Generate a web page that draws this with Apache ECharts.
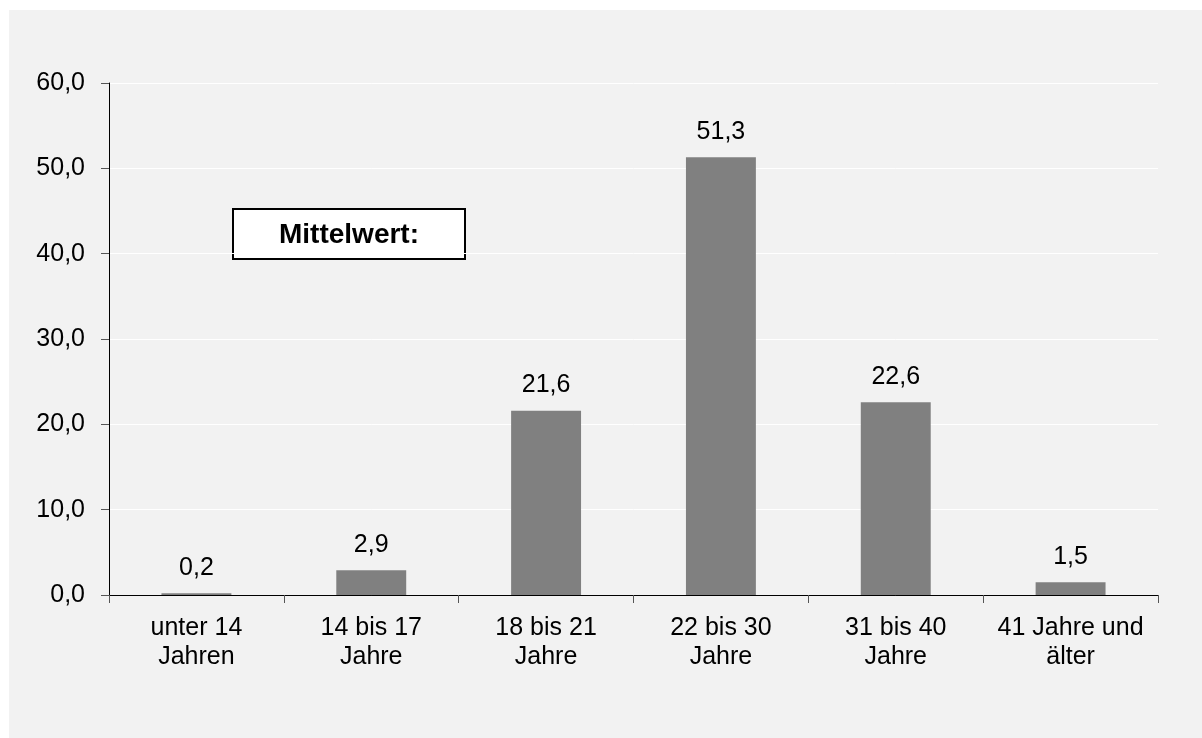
<!DOCTYPE html>
<html><head><meta charset="utf-8">
<script src="https://cdn.jsdelivr.net/npm/echarts@6/dist/echarts.min.js"></script>
<style>html,body{margin:0;padding:0;background:#fff}#c{width:1202px;height:738px}</style>
</head><body><div id="c"></div>
<script>
const categories = ["unter 14\nJahren", "14 bis 17\nJahre", "18 bis 21\nJahre", "22 bis 30\nJahre", "31 bis 40\nJahre", "41 Jahre und\nälter"];
const values = [0.2, 2.9, 21.6, 51.3, 22.6, 1.5];
const boxText = "Mittelwert:";
const FONT = "Liberation Sans";
const fmt = v => v.toFixed(1).replace('.', ',');
const chart = echarts.init(document.getElementById('c'), null, {renderer: 'canvas'});
chart.setOption({
  animation: false,
  backgroundColor: '#ffffff',
  graphic: [
    {type: 'rect', z: -10, shape: {x: 9, y: 10, width: 1193, height: 728}, style: {fill: '#f2f2f2'}},
    {type: 'group', z: 100, left: 232, top: 208, children: [
      {type: 'rect', shape: {x: 1, y: 1, width: 232, height: 50}, style: {fill: '#ffffff', stroke: '#000', lineWidth: 2}},
      {type: 'text', x: 117, y: 27, style: {text: boxText, font: 'bold 28px ' + FONT, fill: '#000', align: 'center', verticalAlign: 'middle'}}
    ]}
  ],
  grid: {left: 109, right: 44, top: 83, bottom: 143, containLabel: false},
  xAxis: {
    type: 'category', data: categories,
    axisLine: {lineStyle: {color: '#000', width: 1}},
    axisTick: {show: true, length: 8, interval: 0, lineStyle: {color: '#555'}},
    axisLabel: {interval: 0, hideOverlap: false, color: '#000', fontFamily: FONT, fontSize: 25, lineHeight: 29, margin: 19}
  },
  yAxis: {
    type: 'value', min: 0, max: 60, interval: 10,
    axisLine: {show: true, lineStyle: {color: '#000', width: 1}},
    axisTick: {show: true, length: 8, lineStyle: {color: '#555'}},
    splitLine: {show: true, lineStyle: {color: '#ffffff', width: 1}},
    axisLabel: {color: '#000', fontFamily: FONT, fontSize: 25, margin: 24, formatter: v => fmt(v)}
  },
  series: [{
    type: 'bar', data: values, barWidth: '40%',
    itemStyle: {color: '#808080'},
    label: {show: true, position: 'top', distance: 13, color: '#000', fontFamily: FONT, fontSize: 25, formatter: p => fmt(p.value)}
  }]
});
</script></body></html>
